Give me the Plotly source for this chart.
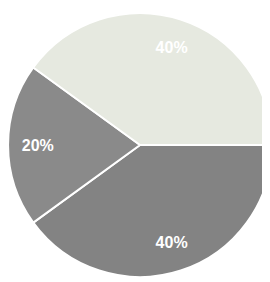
import plotly.graph_objects as go

labels = ["Bottom", "Left", "Top"]
values = [40, 20, 40]
colors = ["#838383", "#8a8a8a", "#e6e9e0"]

dom = dict(x=[0.0, 0.978], y=[0.046, 0.982])

fig = go.Figure()
fig.add_trace(go.Pie(
    labels=labels,
    values=values,
    sort=False,
    direction="clockwise",
    rotation=90,
    marker=dict(colors=colors, line=dict(color="white", width=2)),
    textinfo="none",
    domain=dom,
    showlegend=False,
    hoverinfo="skip",
))
fig.add_trace(go.Pie(
    labels=labels,
    values=values,
    sort=False,
    direction="clockwise",
    rotation=90,
    hole=0.55,
    marker=dict(colors=["rgba(0,0,0,0)"] * 3, line=dict(width=0)),
    textinfo="percent",
    texttemplate="%{percent:.0%}",
    textposition="inside",
    insidetextorientation="horizontal",
    textfont=dict(color="white", size=16, family="Liberation Sans", weight="bold"),
    domain=dom,
    showlegend=False,
    hoverinfo="skip",
))
fig.update_layout(
    width=270, height=282,
    margin=dict(l=0, r=0, t=0, b=0),
    paper_bgcolor="white",
    plot_bgcolor="white",
)
fig.write_html("out.html")
